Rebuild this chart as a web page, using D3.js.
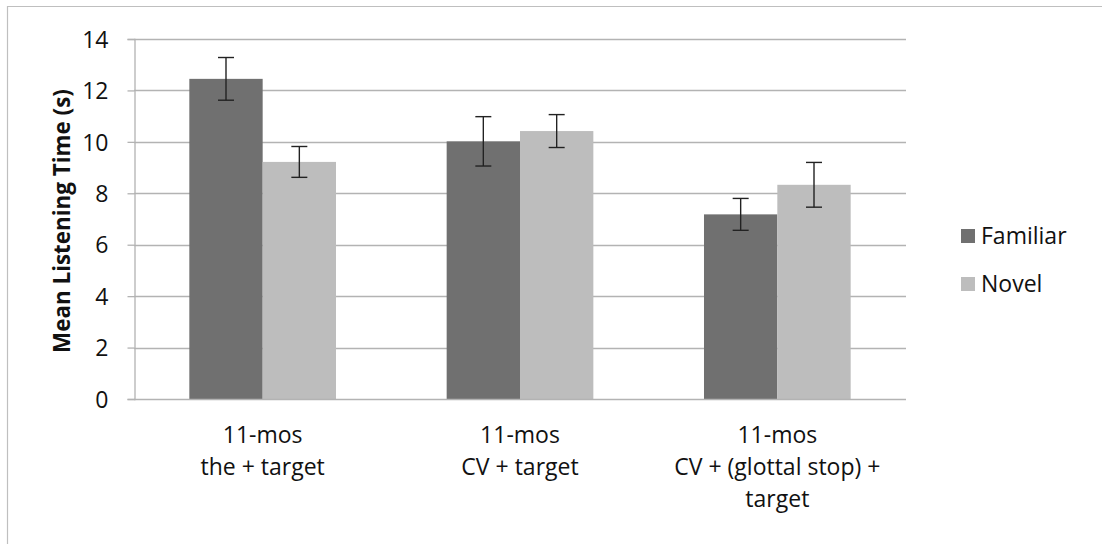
<!DOCTYPE html>
<html>
<head>
<meta charset="utf-8">
<script src="https://cdn.jsdelivr.net/npm/d3@7"></script>
<style>
  html, body { margin: 0; padding: 0; background: #fff; }
  svg { display: block; }
  text { font-family: "Open Sans", Lato, sans-serif; fill: #111; }
</style>
</head>
<body>
<svg id="chart" width="1102" height="544"></svg>
<script>
const categories = [
  ["11-mos", "the + target"],
  ["11-mos", "CV + target"],
  ["11-mos", "CV + (glottal stop) +", "target"]
];
const seriesNames = ["Familiar", "Novel"];
const familiarValues = [12.45, 10.02, 7.18];
const novelValues = [9.22, 10.42, 8.33];
const familiarErrors = [0.83, 0.96, 0.62];
const novelErrors = [0.60, 0.64, 0.87];
const yTicks = [0, 2, 4, 6, 8, 10, 12, 14];
const yTitle = "Mean Listening Time (s)";
const colors = ["#707070", "#bdbdbd"];

const FS = 23;
const FONT = '"Open Sans", Lato, sans-serif';
const svg = d3.select("#chart");
const margin = { left: 134, right: 1102 - 906, top: 39, bottom: 544 - 399 };
const W = 1102, H = 544;
const plotW = W - margin.left - margin.right;
const plotH = H - margin.top - margin.bottom;

// outer chart border (left and top visible)
svg.append("path")
  .attr("d", `M7.5,${H} V6.5 H${W}`)
  .attr("fill", "none").attr("stroke", "#bfbfbf").attr("stroke-width", 1.2);

const g = svg.append("g").attr("transform", `translate(${margin.left},${margin.top})`);

const catIdx = categories.map((d, i) => i);
const x0 = d3.scaleBand().domain(catIdx).range([0, plotW]).paddingInner(0.43).paddingOuter(0.215);
const x1 = d3.scaleBand().domain(seriesNames).range([0, x0.bandwidth()]).padding(0);
const y = d3.scaleLinear().domain([0, 14]).range([plotH, 0]);

// gridlines
g.append("g").selectAll("line").data(yTicks.filter(t => t > 0)).join("line")
  .attr("x1", 0).attr("x2", plotW)
  .attr("y1", d => Math.round(y(d)) + 0.5).attr("y2", d => Math.round(y(d)) + 0.5)
  .attr("stroke", "#b3b3b3").attr("stroke-width", 1.3);

// y axis
const yAxis = g.append("g").attr("transform", "translate(0.5,0)")
  .call(d3.axisLeft(y).tickValues(yTicks).tickSize(7).tickPadding(19).tickFormat(d3.format("d")));
yAxis.select(".domain").attr("stroke", "#b3b3b3").attr("stroke-width", 1.3);
yAxis.selectAll(".tick line").attr("stroke", "#b3b3b3").attr("stroke-width", 1.3);
yAxis.selectAll(".tick text").attr("font-size", FS).attr("fill", "#111")
  .attr("font-family", FONT).attr("dy", "0.36em");

// data rows
const rows = catIdx.map(i => ({
  i,
  vals: [
    { s: seriesNames[0], v: familiarValues[i], e: familiarErrors[i], c: colors[0] },
    { s: seriesNames[1], v: novelValues[i], e: novelErrors[i], c: colors[1] }
  ]
}));

const grp = g.selectAll("g.cat").data(rows).join("g").attr("class", "cat")
  .attr("transform", d => `translate(${x0(d.i)},0)`);

grp.selectAll("rect").data(d => d.vals).join("rect")
  .attr("x", d => x1(d.s)).attr("width", x1.bandwidth())
  .attr("y", d => y(d.v)).attr("height", d => plotH - y(d.v))
  .attr("fill", d => d.c);

// x axis baseline
g.append("line").attr("x1", 0).attr("x2", plotW)
  .attr("y1", plotH + 0.5).attr("y2", plotH + 0.5)
  .attr("stroke", "#b3b3b3").attr("stroke-width", 1.3);

// error bars
const capW = 8;
grp.selectAll("g.err").data(d => d.vals).join("g").attr("class", "err")
  .each(function(d) {
    const cx = x1(d.s) + x1.bandwidth() / 2;
    const sel = d3.select(this);
    sel.append("line").attr("x1", cx).attr("x2", cx).attr("y1", y(d.v + d.e)).attr("y2", y(d.v - d.e));
    sel.append("line").attr("x1", cx - capW).attr("x2", cx + capW).attr("y1", y(d.v + d.e)).attr("y2", y(d.v + d.e));
    sel.append("line").attr("x1", cx - capW).attr("x2", cx + capW).attr("y1", y(d.v - d.e)).attr("y2", y(d.v - d.e));
    sel.selectAll("line").attr("stroke", "#222").attr("stroke-width", 1.4);
  });

// category labels
const lab = g.selectAll("text.cat").data(rows).join("text").attr("class", "cat")
  .attr("text-anchor", "middle").attr("font-size", FS)
  .attr("transform", d => `translate(${x0(d.i) + x0.bandwidth() / 2},${plotH + 44})`);
lab.selectAll("tspan").data(d => categories[d.i]).join("tspan")
  .attr("x", 0).attr("dy", (d, j) => j === 0 ? 0 : 32).text(d => d);

// y title (sized so it spans the same length as the original)
const title = svg.append("text")
  .attr("transform", `translate(70,${margin.top + plotH / 2 + 2}) rotate(-90)`)
  .attr("text-anchor", "middle").attr("font-size", 20).attr("font-weight", "bold")
  .text(yTitle);
const tl = title.node().getComputedTextLength();
if (tl > 0) title.attr("font-size", Math.min(24, Math.max(18, 20 * 264 / tl)));

// legend
const leg = svg.append("g").attr("transform", "translate(961,229)");
const li = leg.selectAll("g").data(seriesNames).join("g")
  .attr("transform", (d, i) => `translate(0,${i * 48})`);
li.append("rect").attr("width", 14).attr("height", 14).attr("fill", (d, i) => colors[i]);
li.append("text").attr("x", 20).attr("y", 7).attr("dy", "0.36em").attr("font-size", FS).text(d => d);
</script>
</body>
</html>
